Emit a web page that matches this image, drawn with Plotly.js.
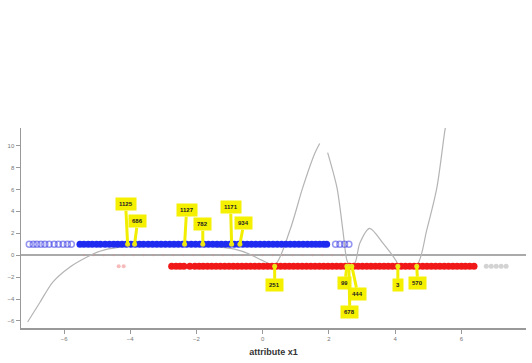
<!DOCTYPE html>
<html>
<head>
<meta charset="utf-8">
<script src="https://cdn.plot.ly/plotly-3.0.1.min.js"></script>
<style>html,body{margin:0;padding:0;background:#fff}#chart{width:532px;height:363px}</style>
</head>
<body>
<div id="chart"></div>
<script>
// ---- data ----
var xTicks = [-6, -4, -2, 0, 2, 4, 6];
var yTicks = [-6, -4, -2, 0, 2, 4, 6, 8, 10];

var blueLevel = 1;
var redLevel = -1;

var blueFaintX = [-7.05, -6.93, -6.82, -6.7, -6.58, -6.45, -6.3, -6.17, -6.03, -5.9, -5.78, 2.2, 2.33, 2.47, 2.6];
var blueX = [-5.52,-5.4,-5.27,-5.15,-5.02,-4.9,-4.76,-4.63,-4.5,-4.38,-4.25,-4.12,-3.98,-3.85,-3.72,-3.6,-3.46,-3.33,-3.2,-3.07,-2.94,-2.81,-2.68,-2.55,-2.42,-2.3,-2.16,-2.03,-1.9,-1.77,-1.64,-1.51,-1.38,-1.25,-1.12,-0.99,-0.86,-0.73,-0.6,-0.47,-0.34,-0.21,-0.08,0.05,0.18,0.31,0.44,0.57,0.7,0.83,0.96,1.09,1.22,1.35,1.48,1.6,1.72,1.84,1.93];

var redFaintX = [-4.35, -4.2];
var redX = [-2.75,-2.62,-2.5,-2.38,-2.2,-2.05,-1.92,-1.8,-1.67,-1.54,-1.41,-1.28,-1.15,-1.02,-0.89,-0.76,-0.63,-0.5,-0.37,-0.24,-0.11,0.02,0.15,0.28,0.41,0.54,0.67,0.8,0.93,1.06,1.19,1.32,1.45,1.58,1.71,1.84,1.97,2.1,2.23,2.36,2.49,2.62,2.75,2.88,3.01,3.14,3.27,3.4,3.53,3.66,3.79,3.92,4.05,4.18,4.31,4.44,4.57,4.7,4.83,4.96,5.09,5.22,5.35,5.48,5.61,5.74,5.87,6.0,6.12,6.25,6.38];
var grayX = [6.75, 6.9, 7.05, 7.2, 7.35];

var zeroDotsX = [-5.4,-5.1,-4.8,-4.5,-4.2,-3.9,-3.6,-3.3,-3.0,-2.7,-2.4,-2.1,-1.8,-1.5,-1.2,-0.9,-0.6,-0.3,0.0,0.3,0.6,0.9,1.2,1.5,1.8,2.1,2.4];

var curveX = [-7.10,-6.74,-6.34,-5.83,-5.32,-4.92,-4.32,-3.41,-2.51,-1.60,-0.85,-0.39,-0.03,0.36,0.82,1.21,1.57,1.72,null,1.96,2.24,2.42,2.54,2.62,2.78,2.93,3.23,3.63,4.05,4.08,4.65,4.95,5.26,5.50,5.56];
var curveY = [-6.09,-4.36,-2.45,-1.09,-0.18,0.36,0.73,0.91,0.91,0.82,0.55,0.09,-0.45,-0.9,2.27,6.18,9.27,10.18,null,9.36,6.18,2.27,-0.45,-0.9,-0.73,1.09,2.45,1.09,-0.64,-1.0,-0.9,2.27,6.18,11.36,12.3];

var labelText = ['1125','686','1127','782','1171','934','251','99','444','678','3','570'];
var labelX    = [-4.08,-3.87,-2.36,-1.81,-0.94,-0.69,0.36,2.54,2.69,2.60,4.08,4.65];
var labelY    = [1,1,1,1,1,1,-1,-1,-1,-1,-1,-1];
var labelDx   = [-2,3,2,0,-1,4,0,-2,6,1,0,1];
var labelDy   = [-40,-23,-34,-20,-37,-21,19,17,28,46,19,17];

var xTitle = 'attribute x1';

// ---- drawing ----
var traces = [
  {x: curveX, y: curveY, mode:'lines', type:'scatter', connectgaps:false,
   line:{color:'#b4b4b4', width:1.2, shape:'spline', smoothing:0.8}},
  {x: zeroDotsX, y: zeroDotsX.map(function(){return 0;}), mode:'markers', type:'scatter',
   marker:{size:2, color:'rgba(200,150,150,0.7)'}, hoverinfo:'skip'},
  {x: blueFaintX, y: blueFaintX.map(function(){return blueLevel;}), mode:'markers', type:'scatter',
   marker:{size:6, color:'rgba(60,60,230,0.55)', symbol:'circle-open', line:{width:1.5}}},
  {x: blueX, y: blueX.map(function(){return blueLevel;}), mode:'markers', type:'scatter',
   marker:{size:7, color:'#1f2cf0'}},
  {x: redFaintX, y: redFaintX.map(function(){return redLevel;}), mode:'markers', type:'scatter',
   marker:{size:4, color:'rgba(240,120,120,0.5)'}},
  {x: redX, y: redX.map(function(){return redLevel;}), mode:'markers', type:'scatter',
   marker:{size:7, color:'#f01818'}},
  {x: grayX, y: grayX.map(function(){return redLevel;}), mode:'markers', type:'scatter',
   marker:{size:5, color:'rgba(200,200,200,0.8)'}},
  {x: labelX, y: labelY, mode:'markers', type:'scatter',
   marker:{size:5, color:'#e8e020'}}
];

var annotations = labelText.map(function(t, i){
  return {x: labelX[i], y: labelY[i], xref:'x', yref:'y', text:'<b>'+t+'</b>',
    showarrow:true, arrowhead:0, arrowwidth:3, arrowcolor:'#f2ee00',
    ax: labelDx[i], ay: labelDy[i], bgcolor:'#f5f000', borderpad:3,
    font:{family:'Liberation Sans, Arial, sans-serif', size:6, color:'#222'}};
});

var layout = {
  width:532, height:363,
  margin:{l:21, r:6, t:128, b:35},
  paper_bgcolor:'#fff', plot_bgcolor:'#fff',
  showlegend:false,
  font:{family:'Liberation Sans, Arial, sans-serif', size:6, color:'#666'},
  xaxis:{range:[-7.3, 7.95], tickvals:xTicks, ticks:'outside', ticklen:4, tickcolor:'#999',
    showgrid:false, zeroline:false, showline:true, linecolor:'#999', linewidth:1.5,
    tickfont:{size:6, color:'#777'},
    title:{text:'<b>'+xTitle+'</b>', font:{size:9, color:'#333'}, standoff:8}},
  yaxis:{range:[-6.64, 11.6], tickvals:yTicks, ticks:'outside', ticklen:4, tickcolor:'#999',
    showgrid:false, zeroline:true, zerolinecolor:'#aaa', zerolinewidth:2,
    showline:true, linecolor:'#999', linewidth:1.5,
    tickfont:{size:6, color:'#777'}},
  annotations: annotations
};

Plotly.newPlot('chart', traces, layout, {displayModeBar:false, staticPlot:true});
</script>
</body>
</html>
